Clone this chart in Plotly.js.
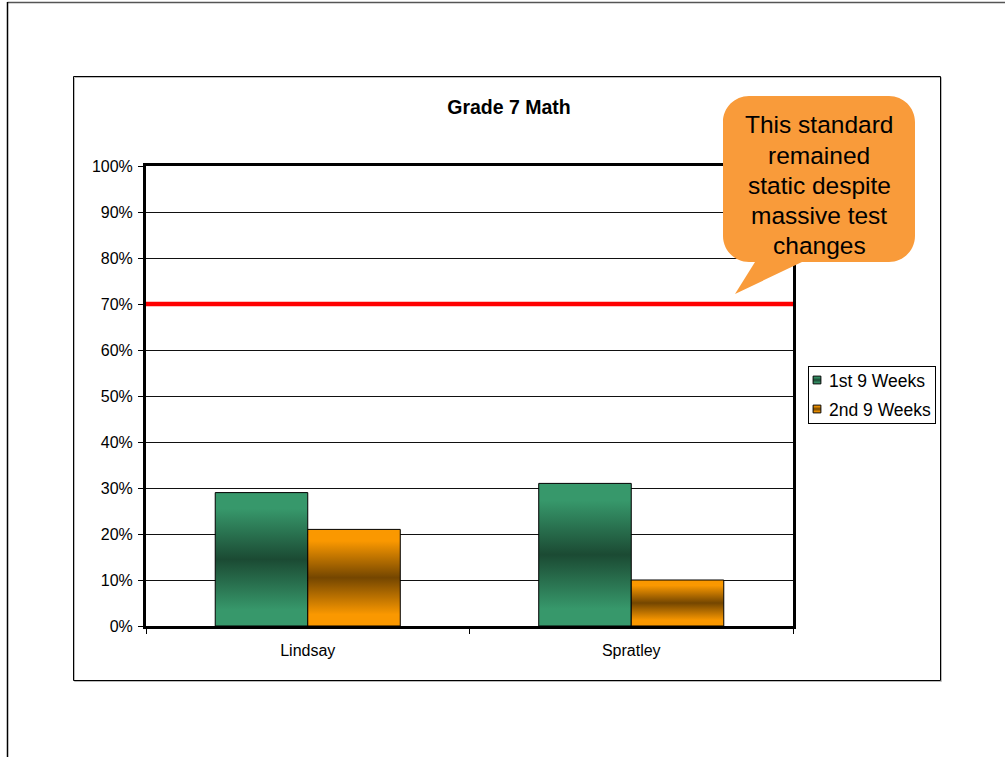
<!DOCTYPE html>
<html>
<head>
<meta charset="utf-8">
<script src="https://cdn.plot.ly/plotly-3.0.1.min.js"></script>
<style>
  html, body { margin: 0; padding: 0; background: #fff; }
  #chart { width: 1005px; height: 757px; }
</style>
</head>
<body>
<div id="chart"></div>
<script>
// Proficiency by teacher, Grade 7 Math
const categories = ['Lindsay', 'Spratley'];
const seriesNames = ['1st 9 Weeks', '2nd 9 Weeks'];
const firstNineWeeks = [0.29, 0.31];
const secondNineWeeks = [0.21, 0.10];
const targetLevel = 0.70;
const calloutLines = ['This standard', 'remained', 'static despite', 'massive test', 'changes'];

const FONT = 'Liberation Sans, Arial, Helvetica, sans-serif';

// plot-area pixel box, used to place decorations in paper units
const W = 1005, H = 757;
const PL = 146, PR = 793, PT = 166, PB = 626;
const fx = px => (px - PL) / (PR - PL);
const fy = py => (PB - py) / (PB - PT);
const pt = (x, y) => fx(x).toFixed(5) + ',' + fy(y).toFixed(5);

// speech bubble outline (rounded box with a tail pointing down-left)
function bubblePath(x1, y1, x2, y2, r, tailA, tailB, tipX, tipY) {
  const k = 0.552 * r;
  return 'M' + pt(x1 + r, y1) +
    ' L' + pt(x2 - r, y1) +
    ' C' + pt(x2 - r + k, y1) + ' ' + pt(x2, y1 + r - k) + ' ' + pt(x2, y1 + r) +
    ' L' + pt(x2, y2 - r) +
    ' C' + pt(x2, y2 - r + k) + ' ' + pt(x2 - r + k, y2) + ' ' + pt(x2 - r, y2) +
    ' L' + pt(tailB, y2) +
    ' L' + pt(tipX, tipY) +
    ' L' + pt(tailA, y2) +
    ' L' + pt(x1 + r, y2) +
    ' C' + pt(x1 + r - k, y2) + ' ' + pt(x1, y2 - r + k) + ' ' + pt(x1, y2 - r) +
    ' L' + pt(x1, y1 + r) +
    ' C' + pt(x1, y1 + r - k) + ' ' + pt(x1 + r - k, y1) + ' ' + pt(x1 + r, y1) + ' Z';
}

const traces = [
  {
    type: 'bar', name: seriesNames[0], x: categories, y: firstNineWeeks,
    marker: { color: '#2e7d56', line: { color: '#000', width: 1 } },
    hoverinfo: 'skip'
  },
  {
    type: 'bar', name: seriesNames[1], x: categories, y: secondNineWeeks,
    marker: { color: '#c97a00', line: { color: '#000', width: 1 } },
    hoverinfo: 'skip'
  }
];

const shapes = [
  // page frame
  { type: 'line', xref: 'paper', yref: 'paper', x0: fx(7.5), x1: fx(W), y0: fy(2.5), y1: fy(2.5),
    line: { color: '#555', width: 1.5 }, layer: 'below' },
  { type: 'line', xref: 'paper', yref: 'paper', x0: fx(7.5), x1: fx(7.5), y0: fy(2), y1: fy(H),
    line: { color: '#000', width: 1.5 }, layer: 'below' },
  // chart area frame with soft shadow
  { type: 'rect', xref: 'paper', yref: 'paper', x0: fx(74.5), x1: fx(941.5), y0: fy(77.5), y1: fy(681.5),
    line: { color: '#bbb', width: 1 }, layer: 'below' },
  { type: 'rect', xref: 'paper', yref: 'paper', x0: fx(73.5), x1: fx(940.5), y0: fy(76.5), y1: fy(680.5),
    line: { color: '#000', width: 1 }, layer: 'below' },
  // target line
  { type: 'line', xref: 'paper', yref: 'y', x0: 0, x1: 1, y0: targetLevel, y1: targetLevel,
    line: { color: '#ff0000', width: 4.5 }, layer: 'above' },
  // callout bubble
  { type: 'path', xref: 'paper', yref: 'paper',
    path: bubblePath(723, 96, 915, 262, 26, 755, 802, 735, 294),
    fillcolor: '#f99b3a', line: { width: 0 }, layer: 'above' }
];

const annotations = calloutLines.map((t, i) => ({
  text: t, xref: 'paper', yref: 'paper', x: fx(819), y: fy(125 + i * 30),
  xanchor: 'center', yanchor: 'middle', showarrow: false,
  font: { family: FONT, size: 24.5, color: '#000' }
}));

const layout = {
  width: W, height: H,
  margin: { l: PL, r: W - PR, t: PT, b: H - PB, pad: 0 },
  paper_bgcolor: '#fff', plot_bgcolor: '#fff',
  font: { family: FONT, color: '#000' },
  title: {
    text: '<b>Grade 7 Math</b>',
    font: { family: FONT, size: 19.5, color: '#000' },
    xref: 'container', yref: 'container',
    x: 509 / W, y: 1 - 107 / H, xanchor: 'center', yanchor: 'middle'
  },
  barmode: 'group', bargap: 0.428, bargroupgap: 0,
  xaxis: {
    type: 'category', showline: true, linecolor: '#000', linewidth: 3, mirror: true,
    ticks: 'outside', tickson: 'boundaries', ticklen: 5, tickwidth: 1, tickcolor: '#000',
    showgrid: false, zeroline: false, fixedrange: true, ticklabelstandoff: 8,
    tickfont: { family: FONT, size: 16, color: '#000' }
  },
  yaxis: {
    range: [0, 1], dtick: 0.1, tick0: 0, tickformat: '.0%',
    showline: true, linecolor: '#000', linewidth: 3, mirror: true,
    ticks: 'outside', ticklen: 5, tickwidth: 1, tickcolor: '#000', ticklabelstandoff: 2,
    showgrid: true, gridcolor: '#111', gridwidth: 1, zeroline: false, fixedrange: true,
    tickfont: { family: FONT, size: 16, color: '#000' }
  },
  showlegend: true,
  legend: {
    x: fx(808), y: fy(366), xanchor: 'left', yanchor: 'top',
    xref: 'paper', yref: 'paper',
    bgcolor: '#fff', bordercolor: '#000', borderwidth: 1,
    font: { family: FONT, size: 17.5, color: '#000' },
    itemwidth: 30, traceorder: 'normal'
  },
  shapes: shapes,
  annotations: annotations
};

// vertical cylinder-like shading for the bars: light at the ends, dark in the middle
function addGradients(gd) {
  const svg = gd.querySelector('svg.main-svg');
  const ns = 'http://www.w3.org/2000/svg';
  let defs = svg.querySelector('defs');
  if (!defs) { defs = document.createElementNS(ns, 'defs'); svg.insertBefore(defs, svg.firstChild); }
  const specs = [
    { id: 'shadeGreen', light: '#37986b', dark: '#1b4a33' },
    { id: 'shadeOrange', light: '#fa9800', dark: '#744600' }
  ];
  specs.forEach(s => {
    const g = document.createElementNS(ns, 'linearGradient');
    g.setAttribute('id', s.id);
    g.setAttribute('x1', '0'); g.setAttribute('y1', '0');
    g.setAttribute('x2', '0'); g.setAttribute('y2', '1');
    [[0, s.light], [0.12, s.light], [0.5, s.dark], [0.88, s.light], [1, s.light]].forEach(([o, c]) => {
      const st = document.createElementNS(ns, 'stop');
      st.setAttribute('offset', o);
      st.setAttribute('stop-color', c);
      g.appendChild(st);
    });
    defs.appendChild(g);
  });

  const barTraces = gd.querySelectorAll('.barlayer .trace');
  barTraces.forEach((tr, i) => {
    tr.querySelectorAll('.point path').forEach(p => { p.style.fill = 'url(#' + specs[i].id + ')'; });
  });

  // compact legend: small shaded swatches, text close to them, wider row spacing
  const items = gd.querySelectorAll('.legend .traces');
  items.forEach((it, i) => {
    it.setAttribute('transform', 'translate(1,' + (14 + 29 * i) + ')');
    it.querySelectorAll('.legendpoints path').forEach(sw => {
      sw.setAttribute('transform', 'translate(8,0) scale(0.65)');
      sw.style.fill = 'url(#' + specs[i].id + ')';
      sw.style.strokeWidth = '1.5px';
    });
    const tx = it.querySelector('.legendtext');
    if (tx) tx.setAttribute('x', 20);
  });
  const bg = gd.querySelector('.legend rect.bg');
  if (bg) { bg.setAttribute('width', 127); bg.setAttribute('height', 57); }
}

const gd = document.getElementById('chart');
Plotly.newPlot(gd, traces, layout, { staticPlot: true, displayModeBar: false, responsive: false })
  .then(addGradients);
</script>
</body>
</html>
